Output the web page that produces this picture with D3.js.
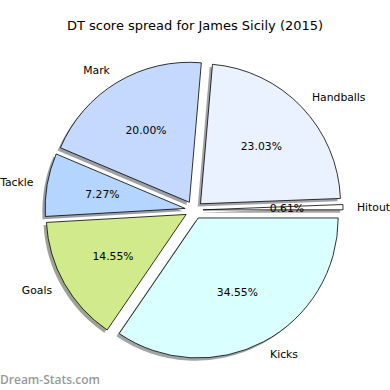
<!DOCTYPE html>
<html>
<head>
<meta charset="utf-8">
<script src="https://cdn.jsdelivr.net/npm/d3@7"></script>
<style>
  body { margin: 0; background: #fff; }
  svg text { font-family: "DejaVu Sans", sans-serif; }
</style>
</head>
<body>
<div id="chart"></div>
<script>
// slices in matplotlib order (counter-clockwise from 3 o'clock)
const labels = ["Hitout", "Handballs", "Mark", "Tackle", "Goals", "Kicks"];
const points = [1, 38, 33, 12, 24, 57];
const colors = ["#ffffff", "#eaf1ff", "#c5d9ff", "#b3d5ff", "#d0ea8c", "#d9ffff"];

const width = 390, height = 390;
const cx = 194, cy = 210, R = 140;
const explode = 9;          // px
const shadowOff = 2.8;      // px

const svg = d3.select("#chart").append("svg")
  .attr("width", width)
  .attr("height", height);

// title
svg.append("text")
  .attr("x", 195)
  .attr("y", 29.5)
  .attr("text-anchor", "middle")
  .style("font-size", "13px")
  .text("DT score spread for James Sicily (2015)");

// d3 angles are clockwise from 12 o'clock; go backwards to mimic counter-clockwise from 3 o'clock
var pie = d3.pie().sort(null)
  .startAngle(Math.PI / 2)
  .endAngle(Math.PI / 2 - 2 * Math.PI);

var arcs = pie(points);
var total = d3.sum(points);

var arc = d3.arc().innerRadius(0).outerRadius(R);

var g = svg.append("g").attr("transform", "translate(" + cx + "," + cy + ")");

var mid = d => (d.startAngle + d.endAngle) / 2;
var off = (d, r) => [Math.sin(mid(d)) * r, -Math.cos(mid(d)) * r];

// shadows first (below every wedge)
g.selectAll(".shadow")
  .data(arcs)
  .enter()
  .append("path")
  .attr("class", "shadow")
  .attr("d", arc)
  .attr("transform", d => {
    var o = off(d, explode);
    return "translate(" + (o[0] - shadowOff) + "," + (o[1] + shadowOff) + ")";
  })
  .style("fill", (d, i) => {
    var c = d3.rgb(colors[i]);
    return d3.rgb(c.r * 0.3, c.g * 0.3, c.b * 0.3);
  })
  .style("opacity", 0.5);

// wedges
g.selectAll(".wedge")
  .data(arcs)
  .enter()
  .append("path")
  .attr("class", "wedge")
  .attr("d", arc)
  .attr("transform", d => "translate(" + off(d, explode) + ")")
  .style("fill", (d, i) => colors[i])
  .style("stroke", "#000")
  .style("stroke-width", 0.8)
  .style("stroke-linejoin", "round");

// percentages
g.selectAll(".pct")
  .data(arcs)
  .enter()
  .append("text")
  .attr("class", "pct")
  .attr("x", d => off(d, explode)[0] + off(d, 0.6 * R)[0])
  .attr("y", d => off(d, explode)[1] + off(d, 0.6 * R)[1])
  .attr("dy", "0.36em")
  .attr("text-anchor", "middle")
  .style("font-size", "10.8px")
  .text(d => (100 * d.value / total).toFixed(2) + "%");

// outer labels
g.selectAll(".lbl")
  .data(arcs)
  .enter()
  .append("text")
  .attr("class", "lbl")
  .attr("x", d => off(d, explode)[0] + off(d, 1.1 * R)[0])
  .attr("y", d => off(d, explode)[1] + off(d, 1.1 * R)[1])
  .attr("dy", "0.36em")
  .attr("text-anchor", d => off(d, 1)[0] > 0 ? "start" : "end")
  .style("font-size", "10.8px")
  .text((d, i) => labels[i]);

// watermark
svg.append("text")
  .attr("x", 0)
  .attr("y", 384)
  .style("font-family", "'Open Sans', sans-serif")
  .style("font-size", "12px")
  .style("fill", "#999")
  .style("font-weight", 600)
  .text("Dream-Stats.com");
</script>
</body>
</html>
